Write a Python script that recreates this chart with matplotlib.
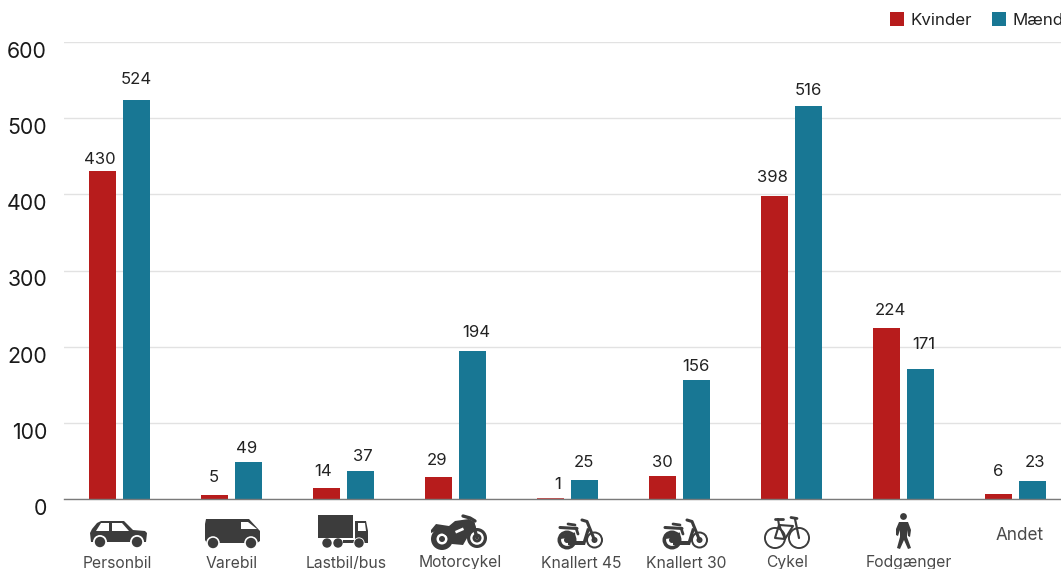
import matplotlib
matplotlib.use("Agg")
import matplotlib.pyplot as plt
from matplotlib.patches import Rectangle, Circle, Polygon
from matplotlib.lines import Line2D

categories = ["Personbil", "Varebil", "Lastbil/bus", "Motorcykel", "Knallert 45",
              "Knallert 30", "Cykel", "Fodgænger", "Andet"]
kvinder = [430, 5, 14, 29, 1, 30, 398, 224, 6]
maend = [524, 49, 37, 194, 25, 156, 516, 171, 23]
y_ticks = [0, 100, 200, 300, 400, 500, 600]
series_names = ["Kvinder", "Mænd"]

# label placement nudges in pixels (dx, dy above bar top)
nudge_k = [(-2.5, 12), (-0.5, 18), (-3.5, 17), (-1.5, 16), (7.5, 14), (-0.5, 14), (-2.5, 18), (3.5, 18), (-0.5, 23)]
nudge_m = [(-0.5, 20), (-2, 13), (2.5, 14), (3.5, 19), (-0.5, 17), (-0.5, 14), (-0.5, 15), (3.5, 24), (2.5, 19)]
label_x = [117, 232, 346, 460, 581, 686.5, 787, 909, 1019.5]
label_y = [563, 563, 563.5, 563, 563, 563, 563, 563, 536]

RED = "#b71c1c"
TEAL = "#187794"
ICON = "#3c3c3c"
W, H = 1061, 569
plt.rcParams["font.family"] = ["Inter", "Noto Sans", "DejaVu Sans"]

fig = plt.figure(figsize=(W / 100, H / 100), dpi=100, facecolor="white")
L, R, T, B = 64, 1061, 42, 499
ax = fig.add_axes([L / W, 1 - B / H, (R - L) / W, (B - T) / H])
ax.set_xlim((L - 119.5) / 112, (R - 119.5) / 112)
ax.set_ylim(0, 600)
for s in ["top", "right", "left"]:
    ax.spines[s].set_visible(False)
ax.spines["bottom"].set_color("#7a7a7a")
ax.spines["bottom"].set_linewidth(1)
ax.set_axisbelow(True)
ax.yaxis.grid(True, color="#e2e2e2", linewidth=1)
ax.xaxis.set_visible(False)
ax.set_yticks(y_ticks)
ax.tick_params(axis="y", length=0, labelleft=False)
for v in y_ticks:
    ax.annotate(str(v), xy=(0, v), xycoords=("axes fraction", "data"), xytext=(47 - L, -10),
                textcoords="offset pixels", ha="right", va="center", fontsize=15.3, color="#1a1a1a",
                annotation_clip=False)

bw, off = 27 / 112, 17 / 112
for i in range(len(categories)):
    for val, sign, col, nd in ((kvinder[i], -1, RED, nudge_k[i]), (maend[i], 1, TEAL, nudge_m[i])):
        x = i + sign * off
        bars = ax.bar(x, val, width=bw, color=col, linewidth=0)
        if val <= 1:
            # a bar under one pixel tall stays behind the axis line, not snapped up to a full pixel
            bars[0].set_snap(False)
        ax.annotate(str(val), xy=(x, val), xytext=nd, textcoords="offset pixels",
                    ha="center", va="center", fontsize=12, color="#222222")

# overlay in reference pixel coordinates for legend and pictograms
ov = fig.add_axes([0, 0, 1, 1], facecolor="none")
ov.set_xlim(0, W)
ov.set_ylim(H, 0)
ov.axis("off")

for x0, col, name in ((890, RED, series_names[0]), (992, TEAL, series_names[1])):
    ov.add_patch(Rectangle((x0, 12), 14, 14, facecolor=col, edgecolor="none"))
    ov.text(x0 + 21, 20, name, ha="left", va="center", fontsize=12.2, color="#222222", clip_on=True)

for i, name in enumerate(categories):
    ov.text(label_x[i], label_y[i], name, ha="center", va="center",
            fontsize=11.3 if i != 8 else 12.3, color="#4a4a4a", clip_on=True)


def P(pts, c=ICON):
    ov.add_patch(Polygon(pts, closed=True, facecolor=c, edgecolor="none"))


def C(x, y, r, c=ICON):
    ov.add_patch(Circle((x, y), r, facecolor=c, edgecolor="none"))


def Ln(xs, ys, lw=1.5, c=ICON):
    ov.add_line(Line2D(xs, ys, color=c, linewidth=lw, solid_capstyle="round", solid_joinstyle="round"))


def ring(x, y, r, w, hub=0):
    C(x, y, r)
    C(x, y, r - w, "white")
    if hub:
        C(x, y, hub)


# car
P([(90, 533), (92, 529), (97, 523), (101, 521), (124, 521), (133, 530), (145, 531), (147, 533), (146, 542), (91, 542)])
P([(96, 531), (101, 523), (109, 523), (109, 531)], "white")
P([(112, 523), (122, 523), (129, 531), (112, 531)], "white")
for x in (100, 137):
    C(x, 542, 7, "white")
    C(x, 542, 5.2)
# van
P([(206, 519), (249, 519), (260, 531), (260, 541), (257, 543), (207, 543), (205, 540), (205, 524)])
P([(241, 522), (248, 522), (257, 529), (241, 529)], "white")
for x in (213, 251):
    C(x, 543, 6.8, "white")
    C(x, 543, 5.2)
# truck
P([(318, 515), (353, 515), (353, 538), (318, 538)])
P([(355, 521), (366, 521), (368, 531), (368, 543), (355, 543)])
P([(358, 523), (365, 523), (366, 531), (358, 531)], "white")
P([(343, 540), (356, 540), (356, 543), (343, 543)])
for x in (327, 338):
    C(x, 543, 4.7)
C(359, 543, 5.6, "white")
C(359, 543, 4.7)
# motorcycle
ring(442, 539, 11, 5.5, 3)
ring(477, 538, 10, 3.2, 4.5)
C(477, 538, 1.5, "white")
P([(431, 530), (436, 524), (449, 526), (455, 521), (469, 519), (474, 522), (477, 531), (470, 533), (463, 545), (452, 544), (447, 536), (438, 530), (431, 533)])
P([(455, 531), (463, 527.5), (464, 530), (456, 533.5)], "white")
Ln([463, 470, 475], [516, 518, 521], 2.4)
Ln([473, 477], [523, 538], 2.4)
# mopeds
for dx in (0, 105):
    ring(567 + dx, 540, 9.5, 3.6, 3)
    ring(594.5 + dx, 540, 8.5, 2, 3)
    C(594.5 + dx, 540, 1.1, "white")
    Ln([560 + dx, 577 + dx], [527.5, 528.5], 2.2)
    Ln([568 + dx, 575 + dx], [524, 525], 2)
    Ln([576 + dx, 578 + dx], [528, 534], 2)
    P([(559 + dx, 535), (575 + dx, 532.5), (576 + dx, 541), (583 + dx, 541), (587 + dx, 528), (590 + dx, 529), (585 + dx, 545), (568 + dx, 545), (568 + dx, 538), (560 + dx, 539)])
    Ln([582 + dx, 587 + dx, 594.5 + dx], [520, 521.5, 540], 2.2)
# bicycle
for x in (775, 799):
    ring(x, 538, 11, 1.9)
Ln([779, 785, 793, 779, 775, 785], [525, 539, 526, 525, 538, 539], 1.5)
Ln([778, 779], [519, 525], 1.5)
Ln([775, 783], [519, 519], 2)
Ln([795, 799], [519, 538], 1.6)
Ln([791, 797], [517.5, 518.5], 2)
# pedestrian
C(903.5, 516.5, 3.4)
P([(899, 522), (908, 522), (911, 530), (910, 537), (908, 536), (907, 530), (907, 537), (911, 548), (908, 549), (904, 540), (900, 549), (897, 548), (900, 537), (900, 530), (898, 536), (896, 535), (896, 529)])

fig.savefig("out.png", dpi=100)
